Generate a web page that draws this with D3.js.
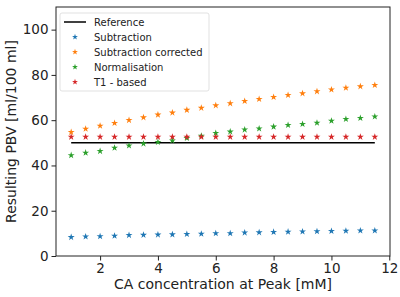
<!DOCTYPE html>
<html>
<head>
<meta charset="utf-8">
<script src="https://cdn.jsdelivr.net/npm/d3@7"></script>
<style>
  body { margin: 0; background: #fff; }
  text { font-family: "DejaVu Sans", sans-serif; }
</style>
</head>
<body>
<svg id="chart" width="400" height="297"></svg>
<script>
// CA concentration at peak [mM]
var conc = [1, 1.5, 2, 2.5, 3, 3.5, 4, 4.5, 5, 5.5, 6, 6.5, 7, 7.5, 8, 8.5, 9, 9.5, 10, 10.5, 11, 11.5];
var reference = 50;
var subtraction = [8.3, 8.6, 8.7, 8.9, 9.2, 9.3, 9.4, 9.5, 9.7, 9.8, 10.0, 10.0, 10.3, 10.4, 10.6, 10.7, 10.8, 10.9, 11.0, 11.1, 11.2, 11.2];
var subtractionCorrected = [54.7, 56.2, 57.5, 58.7, 60.0, 61.2, 62.4, 63.3, 64.5, 65.4, 66.5, 67.4, 68.4, 69.3, 70.2, 71.1, 71.8, 72.7, 73.5, 74.3, 74.9, 75.5];
var normalisation = [44.5, 45.6, 46.3, 47.8, 48.8, 49.6, 50.3, 51.0, 52.1, 53.1, 54.3, 54.9, 55.8, 56.3, 57.1, 57.8, 58.3, 58.8, 59.7, 60.5, 60.9, 61.6];
var t1Based = [52.6, 52.6, 52.6, 52.6, 52.6, 52.6, 52.6, 52.6, 52.6, 52.6, 52.6, 52.6, 52.6, 52.6, 52.6, 52.6, 52.6, 52.6, 52.6, 52.6, 52.6, 52.6];
var xTicks = [2, 4, 6, 8, 10, 12];
var yTicks = [0, 20, 40, 60, 80, 100];

var series = [
  {name: "Subtraction", values: subtraction, color: "#1f77b4"},
  {name: "Subtraction corrected", values: subtractionCorrected, color: "#ff7f0e"},
  {name: "Normalisation", values: normalisation, color: "#2ca02c"},
  {name: "T1 - based", values: t1Based, color: "#d62728"}
];

var svg = d3.select("#chart"),
    margin = {top: 7, right: 10, bottom: 41, left: 56},
    width = +svg.attr("width") - margin.left - margin.right,
    height = +svg.attr("height") - margin.top - margin.bottom,
    g = svg.append("g").attr("transform", "translate(" + margin.left + "," + margin.top + ")");

var x = d3.scaleLinear().domain([0.475, 12.025]).range([0, width]);
var y = d3.scaleLinear().domain([0, 110]).range([height, 0]);

// reference line
g.append("line")
    .attr("x1", x(conc[0]))
    .attr("x2", x(conc[conc.length - 1]))
    .attr("y1", y(reference))
    .attr("y2", y(reference))
    .attr("stroke", "#000")
    .attr("stroke-width", 1.5);

var star = d3.symbol().type(d3.symbolStar).size(15);

series.forEach(function(s) {
  g.append("g")
    .selectAll("path")
    .data(s.values)
    .enter().append("path")
      .attr("d", star)
      .attr("transform", function(d, i) { return "translate(" + x(conc[i]) + "," + y(d) + ")"; })
      .attr("fill", s.color);
});

// axes
var xAxis = g.append("g")
    .attr("transform", "translate(0," + height + ")")
    .call(d3.axisBottom(x).tickValues(xTicks).tickSize(4.5).tickPadding(3).tickFormat(d3.format("d")));
var yAxis = g.append("g")
    .call(d3.axisLeft(y).tickValues(yTicks).tickSize(4.5).tickPadding(3).tickFormat(d3.format("d")));
[xAxis, yAxis].forEach(function(a) {
  a.select(".domain").remove();
  a.selectAll("text").attr("font-family", "DejaVu Sans, sans-serif").attr("font-size", 13.5).attr("fill", "#222");
  a.selectAll("line").attr("stroke", "#222").attr("stroke-width", 1);
});

// frame
g.append("rect")
    .attr("width", width)
    .attr("height", height)
    .attr("fill", "none")
    .attr("stroke", "#222")
    .attr("stroke-width", 1);

// labels
svg.append("text")
    .attr("x", margin.left + width / 2)
    .attr("y", 289)
    .attr("text-anchor", "middle")
    .attr("font-size", 14)
    .attr("fill", "#222")
    .text("CA concentration at Peak [mM]");

svg.append("text")
    .attr("transform", "translate(16," + (margin.top + height / 2) + ") rotate(-90)")
    .attr("text-anchor", "middle")
    .attr("font-size", 14)
    .attr("fill", "#222")
    .text("Resulting PBV [ml/100 ml]");

// legend
var legend = svg.append("g").attr("transform", "translate(60,13)");
legend.append("rect")
    .attr("width", 149)
    .attr("height", 78)
    .attr("rx", 2)
    .attr("fill", "#fff")
    .attr("fill-opacity", 0.8)
    .attr("stroke", "#d9d9d9")
    .attr("stroke-width", 0.8);

var items = [{name: "Reference", color: "#000", line: true}].concat(series);
var row = legend.selectAll("g.item")
    .data(items)
    .enter().append("g")
      .attr("class", "item")
      .attr("transform", function(d, i) { return "translate(0," + (9 + i * 15) + ")"; });

row.filter(function(d) { return d.line; }).append("line")
    .attr("x1", 4).attr("x2", 26)
    .attr("stroke", "#000").attr("stroke-width", 1.5);
row.filter(function(d) { return !d.line; }).append("path")
    .attr("d", d3.symbol().type(d3.symbolStar).size(11))
    .attr("transform", "translate(15,0)")
    .attr("fill", function(d) { return d.color; });
row.append("text")
    .attr("x", 34)
    .attr("dy", "0.35em")
    .attr("font-size", 10)
    .attr("fill", "#222")
    .text(function(d) { return d.name; });
</script>
</body>
</html>
